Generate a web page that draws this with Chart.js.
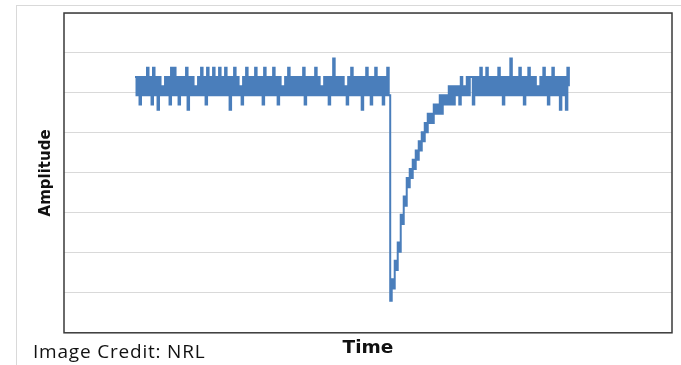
<!DOCTYPE html>
<html>
<head>
<meta charset="utf-8">
<script src="https://cdn.jsdelivr.net/npm/chart.js@4.4.1/dist/chart.umd.min.js"></script>
<style>
  html, body { margin: 0; padding: 0; background: #ffffff; }
  #wrap { position: relative; width: 681px; height: 365px; overflow: hidden; }
  #frame { position: absolute; left: 16px; top: 5px; width: 700px; height: 400px;
           border-left: 1px solid #d9d9d9; border-top: 1px solid #d9d9d9; }
  #cv { position: absolute; left: 0; top: 0; }
  #credit { position: absolute; left: 33px; top: 338px; font-family: "Open Sans", sans-serif;
            font-size: 19px; letter-spacing: 0.8px; color: #111; white-space: nowrap; }
</style>
</head>
<body>
<div id="wrap">
  <div id="frame"></div>
  <canvas id="cv" width="681" height="365"></canvas>
  <div id="credit">Image Credit: NRL</div>
</div>
<script>
// ---- data (y in gridline units, 0 = bottom of plot, 8 = top) ----
const xTitle = "Time";
const yTitle = "Amplitude";

// steady signal before the dip (samples 0..169)
const beforeDip = [
  6.40, 5.94, 6.40, 5.71, 6.40, 5.94, 6.40, 5.94, 6.63, 5.94,
  6.40, 5.71, 6.63, 5.94, 6.40, 5.58, 6.40, 5.94, 6.17, 5.94,
  6.40, 5.94, 6.40, 5.71, 6.63, 5.94, 6.63, 5.94, 6.40, 5.71,
  6.40, 5.94, 6.40, 5.94, 6.63, 5.58, 6.40, 5.94, 6.40, 5.94,
  6.17, 5.94, 6.40, 5.94, 6.63, 5.94, 6.40, 5.71, 6.63, 5.94,
  6.40, 5.94, 6.63, 5.94, 6.40, 5.94, 6.63, 5.94, 6.40, 5.94,
  6.63, 5.94, 6.40, 5.58, 6.40, 5.94, 6.63, 5.94, 6.40, 5.94,
  6.17, 5.71, 6.40, 5.94, 6.63, 5.94, 6.40, 5.94, 6.40, 5.94,
  6.63, 5.94, 6.40, 5.94, 6.40, 5.71, 6.63, 5.94, 6.40, 5.94,
  6.40, 5.94, 6.63, 5.94, 6.40, 5.71, 6.40, 5.94, 6.17, 5.94,
  6.40, 5.94, 6.63, 5.94, 6.40, 5.94, 6.40, 5.94, 6.40, 5.94,
  6.40, 5.94, 6.63, 5.71, 6.40, 5.94, 6.40, 5.94, 6.40, 5.94,
  6.63, 5.94, 6.40, 5.94, 6.17, 5.94, 6.40, 5.94, 6.40, 5.71,
  6.40, 5.94, 6.86, 5.94, 6.40, 5.94, 6.40, 5.94, 6.40, 5.94,
  6.17, 5.71, 6.40, 5.94, 6.63, 5.94, 6.40, 5.94, 6.40, 5.94,
  6.40, 5.58, 6.40, 5.94, 6.63, 5.94, 6.40, 5.71, 6.40, 5.94,
  6.63, 5.94, 6.40, 5.94, 6.40, 5.71, 6.40, 5.94, 6.63, 5.94
];

// sharp drop and recovery (samples 170..223)
const recovery = [
  0.80, 1.34, 1.11, 1.80, 1.57, 2.26, 2.03, 2.95, 2.72, 3.41,
  3.18, 3.87, 3.64, 4.10, 3.87, 4.33, 4.10, 4.56, 4.33, 4.79,
  4.56, 5.02, 4.79, 5.25, 5.02, 5.48, 5.25, 5.48, 5.25, 5.71,
  5.48, 5.71, 5.48, 5.94, 5.48, 5.94, 5.71, 5.94, 5.71, 6.17,
  5.71, 6.17, 5.71, 6.17, 5.94, 6.17, 5.71, 6.40, 5.94, 6.17,
  5.94, 6.40, 5.94, 6.40
];

// steady signal after recovery (samples 224..289)
const afterDip = [
  6.40, 5.71, 6.40, 5.94, 6.40, 5.94, 6.63, 5.94, 6.40, 5.94,
  6.63, 5.94, 6.40, 5.94, 6.40, 5.94, 6.40, 5.94, 6.63, 5.94,
  6.40, 5.71, 6.40, 5.94, 6.40, 5.94, 6.86, 5.94, 6.40, 5.94,
  6.40, 5.94, 6.63, 5.94, 6.40, 5.71, 6.40, 5.94, 6.63, 5.94,
  6.40, 5.94, 6.40, 5.94, 6.17, 5.94, 6.40, 5.94, 6.63, 5.94,
  6.40, 5.71, 6.40, 5.94, 6.63, 5.94, 6.40, 5.94, 6.40, 5.58,
  6.40, 5.94, 6.40, 5.58, 6.63, 6.17
];

// ---- build the series ----
const amplitude = beforeDip.concat(recovery, afterDip);
const points = amplitude.map((v, i) => ({ x: i, y: v }));

const framePlugin = {
  id: 'plotFrame',
  afterDraw(chart) {
    const { ctx, chartArea: a } = chart;
    ctx.save();
    ctx.strokeStyle = '#3a3a3a';
    ctx.lineWidth = 1.5;
    ctx.strokeRect(a.left, a.top, a.right - a.left, a.bottom - a.top);
    ctx.restore();
  }
};

new Chart(document.getElementById('cv'), {
  type: 'line',
  data: {
    datasets: [{
      data: points,
      borderColor: '#4a7ebb',
      borderWidth: 2,
      pointRadius: 0,
      stepped: true,
      fill: false
    }]
  },
  options: {
    responsive: false,
    animation: false,
    events: [],
    layout: { padding: { left: 37, right: 9, top: 13, bottom: 6 } },
    plugins: { legend: { display: false }, tooltip: { enabled: false } },
    scales: {
      x: {
        type: 'linear',
        min: -47.3,
        max: 357.7,
        grid: { display: false, drawTicks: false },
        border: { display: false },
        ticks: { display: false },
        title: { display: true, text: xTitle, color: '#111',
                 font: { family: 'DejaVu Sans', size: 18.5, weight: 'bold' },
                 padding: { top: 4, bottom: 0 } }
      },
      y: {
        min: 0,
        max: 8,
        grid: { color: '#d9d9d9', lineWidth: 1, drawTicks: false },
        border: { display: false },
        ticks: { display: false, stepSize: 1 },
        title: { display: true, text: yTitle, color: '#111',
                 font: { family: 'DejaVu Sans', size: 15, weight: 'bold' },
                 padding: { top: 0, bottom: 9 } }
      }
    }
  },
  plugins: [framePlugin]
});
</script>
</body>
</html>
